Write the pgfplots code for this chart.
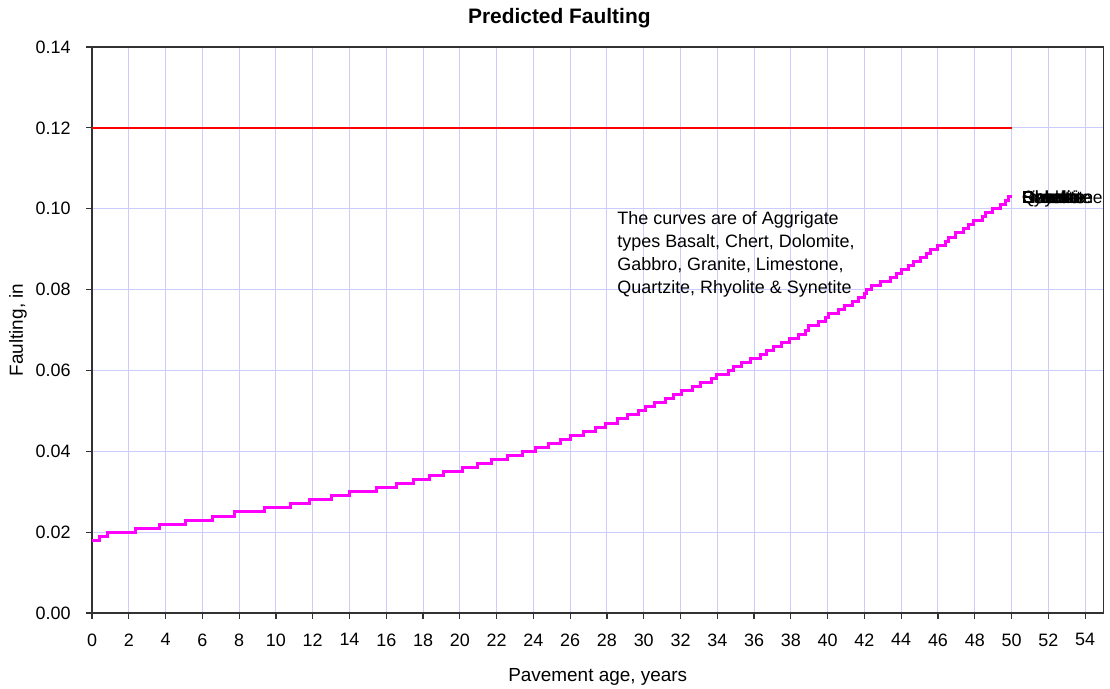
\documentclass[border=0pt]{standalone}
\usepackage{fontspec}
\setmainfont{Liberation Sans}
\usepackage{pgfplots}
\pgfplotsset{compat=1.18}
\definecolor{gridc}{RGB}{204,204,255}
\definecolor{axc}{RGB}{50,50,50}
\definecolor{mag}{RGB}{255,0,255}
\definecolor{redl}{RGB}{255,0,0}
\tikzset{endlab/.style={anchor=base west, inner sep=0pt, font=\fontsize{17.5}{20}\selectfont}}
\begin{document}
\begin{tikzpicture}
\begin{axis}[
  scale only axis, width=1011.5bp, height=566bp,
  xmin=0, xmax=55, ymin=0, ymax=0.14,
  xtick={0,2,...,54},
  ytick={0,0.02,0.04,0.06,0.08,0.10,0.12,0.14},
  xtick pos=bottom, ytick pos=left,
  grid=major, major grid style={gridc, line width=1bp},
  axis line style={axc, line width=1.2bp},
  major tick length=6bp,
  xtick align=outside, ytick align=outside,
  tick style={axc, line width=1.2bp},
  /pgf/number format/assume math mode=true,
  xticklabel style={font=\fontsize{18}{20}\selectfont, yshift=-11bp},
  yticklabel style={font=\fontsize{18}{20}\selectfont, xshift=-12bp, /pgf/number format/.cd, fixed, fixed zerofill, precision=2, assume math mode=true},
  title={Predicted Faulting},
  title style={at={(0.462,1.0407)}, anchor=center, font=\bfseries\fontsize{21}{24}\selectfont},
  xlabel={Pavement age, years},
  xlabel style={at={(axis description cs:0.5,-0.113)}, anchor=center, font=\fontsize{19}{22}\selectfont},
  ylabel={Faulting, in},
  ylabel style={at={(axis description cs:-0.0732,0.5)}, anchor=center, font=\fontsize{19}{22}\selectfont},
  clip=false,
]
\addplot[redl, line width=2.6bp] coordinates {(0,0.12) (50,0.12)};
\addplot[mag, line width=3bp, const plot] table {
x y
0 0.018
0.4 0.019
0.85 0.020
2.39 0.021
3.66 0.022
5.07 0.023
6.56 0.024
7.74 0.025
9.37 0.026
10.77 0.027
11.85 0.028
13.0 0.029
14.0 0.030
15.46 0.031
16.55 0.032
17.46 0.033
18.37 0.034
19.13 0.035
20.13 0.036
20.95 0.037
21.73 0.038
22.6 0.039
23.4 0.040
24.1 0.041
24.8 0.042
25.5 0.043
26.0 0.044
26.7 0.045
27.4 0.046
27.9 0.047
28.6 0.048
29.1 0.049
29.7 0.050
30.07 0.051
30.6 0.052
31.2 0.053
31.6 0.054
32.07 0.055
32.67 0.056
33.07 0.057
33.7 0.058
33.98 0.059
34.6 0.060
34.9 0.061
35.34 0.062
35.8 0.063
36.34 0.064
36.7 0.065
37.07 0.066
37.5 0.067
37.9 0.068
38.43 0.069
38.8 0.070
38.98 0.071
39.5 0.072
39.9 0.073
40.07 0.074
40.6 0.075
40.9 0.076
41.34 0.077
41.7 0.078
41.98 0.079
42.13 0.080
42.4 0.081
42.85 0.082
43.4 0.083
43.76 0.084
44.04 0.085
44.4 0.086
44.67 0.087
45.04 0.088
45.4 0.089
45.58 0.090
45.95 0.091
46.4 0.092
46.58 0.093
46.95 0.094
47.4 0.095
47.67 0.096
47.95 0.097
48.4 0.098
48.58 0.099
48.95 0.100
49.4 0.101
49.67 0.102
49.85 0.103
50.0 0.103
};
\node[anchor=north west, inner sep=0pt, align=left, font=\fontsize{18}{23.3}\selectfont] at (axis cs:28.56,0.0994)
  {The curves are of Aggrigate\\types Basalt, Chert, Dolomite,\\Gabbro, Granite, Limestone,\\Quartzite, Rhyolite \& Synetite};
\node[endlab] at (axis cs:50.57,0.1014) {Basalt};
\node[endlab] at (axis cs:50.57,0.1014) {Chert};
\node[endlab] at (axis cs:50.57,0.1014) {Dolomite};
\node[endlab] at (axis cs:50.57,0.1014) {Gabbro};
\node[endlab] at (axis cs:50.57,0.1014) {Granite};
\node[endlab] at (axis cs:50.57,0.1014) {Limestone};
\node[endlab] at (axis cs:50.57,0.1014) {Quartzite};
\node[endlab] at (axis cs:50.57,0.1014) {Rhyolite};
\node[endlab] at (axis cs:50.57,0.1014) {Synetite};
\end{axis}
\pgfresetboundingbox
\path ([shift={(-92bp,-75bp)}]current axis.south west) rectangle ([shift={(6.5bp,47bp)}]current axis.north east);
\end{tikzpicture}
\end{document}
